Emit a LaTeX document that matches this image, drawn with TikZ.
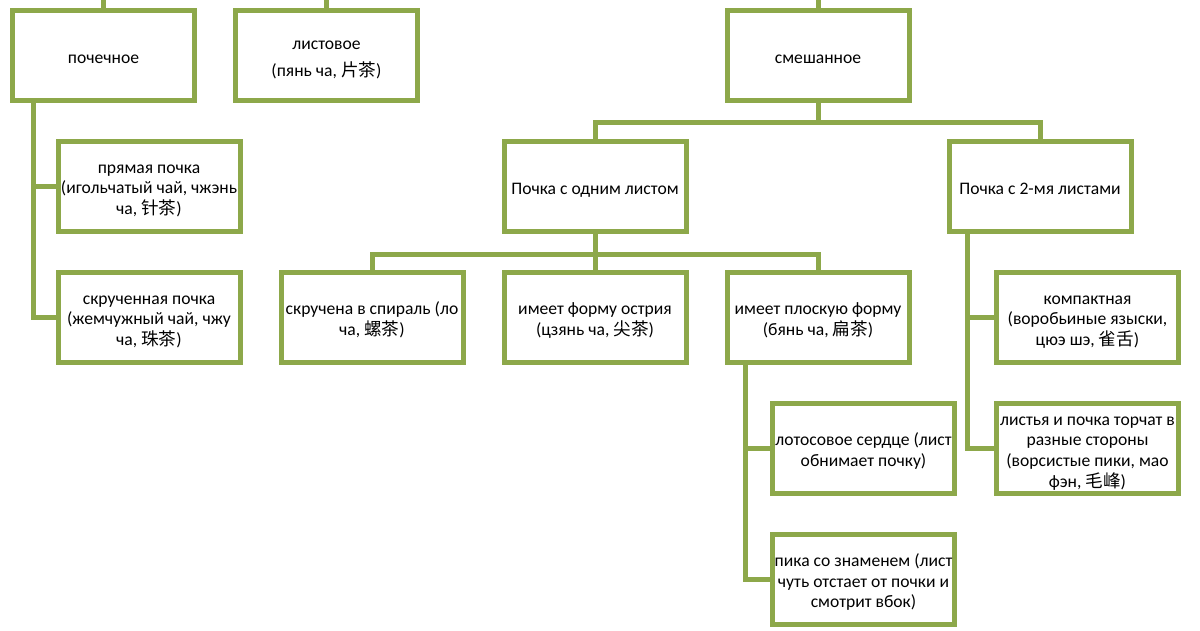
\documentclass[tikz,border=0pt]{standalone}
\usepackage{fontspec}
\setmainfont{Carlito}
\newfontfamily\cjk{Noto Sans CJK SC}
\definecolor{olivegr}{RGB}{141,168,74}
\newcommand{\bt}[1]{\raisebox{-3.5pt}[\height][\depth]{\begin{tabular}{@{}c@{}}#1\end{tabular}}}
\begin{document}
\begin{tikzpicture}[x=1pt,y=-1pt,
  box/.style={draw=olivegr, line width=5pt, fill=white, minimum width=182pt, minimum height=90pt,
    inner sep=0pt, font=\fontsize{17.6}{20.5}\selectfont, text=black},
  conn/.style={draw=olivegr, line width=5pt}]
\useasboundingbox (0,0) rectangle (1200,630);
\fill[white] (0,0) rectangle (1200,630);
% helper coordinates
\coordinate (t1) at (103.5,0);
\coordinate (t2) at (326.5,0);
\coordinate (t3) at (818,0);
\coordinate (v1) at (33,0);
\coordinate (v2) at (745,0);
\coordinate (v3) at (967,0);
% connectors
\draw[conn] (t1) -- (103.5,12);
\draw[conn] (t2) -- (326.5,12);
\draw[conn] (t3) -- (818,12);
\draw[conn] (v1 |- 0,100) |- (149,186.5);
\draw[conn] (v1 |- 0,100) |- (149,317.5);
\draw[conn] (818,100) -- (818,122) -| (595,150);
\draw[conn] (818,122) -| (1040,150);
\draw[conn] (595,230) -- (595,254) -| (372,290);
\draw[conn] (595,254) -- (595,290);
\draw[conn] (595,254) -| (818,290);
\draw[conn] (v2 |- 0,360) |- (863.5,448.5);
\draw[conn] (v2 |- 0,360) |- (863.5,579.5);
\draw[conn] (v3 |- 0,230) |- (1087.5,317.5);
\draw[conn] (v3 |- 0,230) |- (1087.5,448.5);
% boxes
\node[box] (p1) at (103.5,55.5) {\bt{почечное}};
\node[box] (p2) at (326.5,55.5) {\bt{листовое\\[6pt](пянь ча, {\cjk 片茶})}};
\node[box] (p3) at (818,55.5) {\bt{смешанное}};
\node[box] (a1) at (149,186.5) {\bt{прямая почка\\(игольчатый чай, чжэнь\\ча, {\cjk 针茶})}};
\node[box] (a2) at (149,317.5) {\bt{скрученная почка\\(жемчужный чай, чжу\\ча, {\cjk 珠茶})}};
\node[box] (b1) at (595,186.5) {\bt{Почка с одним листом}};
\node[box] (b2) at (1040,186.5) {\bt{Почка с 2-мя листами}};
\node[box] (c1) at (372,317.5) {\bt{скручена в спираль (ло\\ча, {\cjk 螺茶})}};
\node[box] (c2) at (595,317.5) {\bt{имеет форму острия\\(цзянь ча, {\cjk 尖茶})}};
\node[box] (c3) at (818,317.5) {\bt{имеет плоскую форму\\(бянь ча, {\cjk 扁茶})}};
\node[box] (d1) at (863.5,448.5) {\bt{лотосовое сердце (лист\\обнимает почку)}};
\node[box] (d2) at (863.5,579.5) {\bt{пика со знаменем (лист\\чуть отстает от почки и\\смотрит вбок)}};
\node[box] (e1) at (1087.5,317.5) {\bt{компактная\\(воробьиные языски,\\цюэ шэ, {\cjk 雀舌})}};
\node[box] (e2) at (1087.5,448.5) {\bt{листья и почка торчат в\\разные стороны\\(ворсистые пики, мао\\фэн, {\cjk 毛峰})}};
% node-to-node link
\draw[conn] (p1.south -| v1) -- (v1 |- 0,100);
\end{tikzpicture}
\end{document}
